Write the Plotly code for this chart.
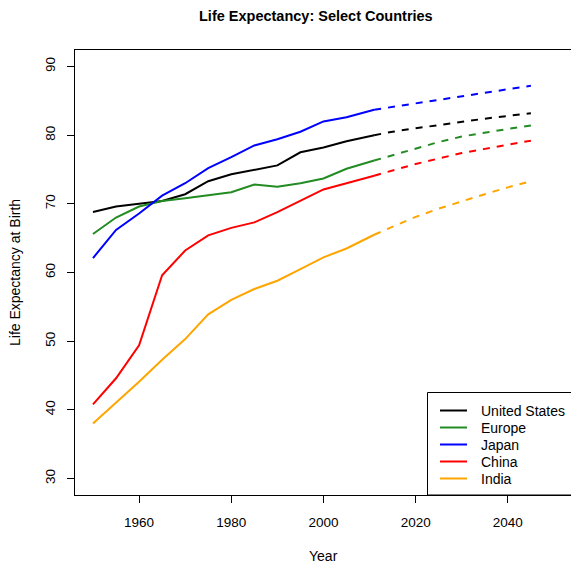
import plotly.graph_objects as go

# Life expectancy at birth: observed 1950-2011, projected 2011-2045
years_hist = [1950, 1955, 1960, 1965, 1970, 1975, 1980, 1985, 1990, 1995, 2000, 2005, 2011]
years_proj = [2011, 2015, 2020, 2025, 2030, 2035, 2040, 2045]

countries = ["United States", "Europe", "Japan", "China", "India"]
colors = ["black", "#228B22", "blue", "red", "#FFA500"]

us_hist = [68.8, 69.6, 70.0, 70.4, 71.4, 73.3, 74.3, 75.0, 75.6, 77.5, 78.2, 79.1, 80.0]
europe_hist = [65.6, 68.0, 69.6, 70.4, 70.8, 71.3, 71.7, 72.8, 72.5, 73.0, 73.7, 75.1, 76.3]
japan_hist = [62.1, 66.2, 68.6, 71.2, 73.0, 75.2, 76.8, 78.5, 79.4, 80.5, 82.0, 82.6, 83.7]
china_hist = [40.8, 44.6, 49.4, 59.6, 63.2, 65.4, 66.5, 67.3, 68.8, 70.5, 72.1, 73.0, 74.1]
india_hist = [38.0, 41.0, 44.1, 47.3, 50.3, 53.9, 56.0, 57.6, 58.8, 60.5, 62.2, 63.5, 65.5]

us_proj = [80.0, 80.5, 81.0, 81.5, 82.0, 82.4, 82.8, 83.2]
europe_proj = [76.3, 77.1, 78.1, 79.0, 79.8, 80.4, 80.9, 81.4]
japan_proj = [83.7, 84.1, 84.6, 85.1, 85.6, 86.1, 86.6, 87.2]
china_proj = [74.1, 74.9, 75.8, 76.6, 77.4, 78.0, 78.6, 79.2]
india_proj = [65.5, 66.7, 68.1, 69.3, 70.4, 71.4, 72.4, 73.3]

x_ticks = [1960, 1980, 2000, 2020, 2040]
y_ticks = [30, 40, 50, 60, 70, 80, 90]

hist = [us_hist, europe_hist, japan_hist, china_hist, india_hist]
proj = [us_proj, europe_proj, japan_proj, china_proj, india_proj]

W, H = 571, 564
ML, MR, MT, MB = 75, 0, 50, 69
PW, PH = W - ML - MR, H - MT - MB
FONT = "Liberation Sans, Arial, Helvetica, sans-serif"


def px(xp):
    return (xp - ML) / PW


def py(yp):
    return (H - MB - yp) / PH


fig = go.Figure()
for name, col, h, p in zip(countries, colors, hist, proj):
    fig.add_trace(go.Scatter(x=years_hist, y=h, mode="lines", name=name,
                             line=dict(color=col, width=2), showlegend=False))
    fig.add_trace(go.Scatter(x=years_proj, y=p, mode="lines", name=name,
                             line=dict(color=col, width=2, dash="7px,7px"),
                             showlegend=False))

shapes = []
annotations = []

# legend box in the bottom-right corner
shapes.append(dict(type="rect", xref="paper", yref="paper",
                   x0=px(427.5), x1=px(580), y0=py(495), y1=py(392.5),
                   line=dict(color="black", width=1), fillcolor="white", layer="above"))
row_y = [410.5, 427.5, 444.5, 461.5, 478.5]
for name, col, ry in zip(countries, colors, row_y):
    shapes.append(dict(type="line", xref="paper", yref="paper",
                       x0=px(440), x1=px(467), y0=py(ry), y1=py(ry),
                       line=dict(color=col, width=2), layer="above"))
    annotations.append(dict(text=name, xref="paper", yref="paper",
                            x=px(479), y=py(ry), xanchor="left", yanchor="middle",
                            showarrow=False, font=dict(size=14, color="black", family=FONT)))

annotations.append(dict(text="<b>Life Expectancy: Select Countries</b>", xref="paper", yref="paper",
                        x=px(316), y=py(16), xanchor="center", yanchor="middle",
                        showarrow=False, font=dict(size=14.5, color="black", family=FONT)))
annotations.append(dict(text="Year", xref="paper", yref="paper",
                        x=px(323), y=py(556), xanchor="center", yanchor="middle",
                        showarrow=False, font=dict(size=14, color="black", family=FONT)))
annotations.append(dict(text="Life Expectancy at Birth", xref="paper", yref="paper",
                        x=px(15), y=py(273), xanchor="center", yanchor="middle",
                        textangle=-90, showarrow=False,
                        font=dict(size=14, color="black", family=FONT)))

fig.update_layout(
    width=W, height=H,
    margin=dict(l=ML, r=MR, t=MT, b=MB, pad=0),
    paper_bgcolor="white", plot_bgcolor="white",
    font=dict(family=FONT, size=13.5, color="black"),
    shapes=shapes, annotations=annotations,
    xaxis=dict(range=[1946.1, 2053.7], tickvals=x_ticks, ticks="outside", ticklen=7,
               tickcolor="black", tickwidth=1, showline=True, linecolor="black",
               linewidth=1, mirror=True, showgrid=False, zeroline=False,
               ticklabelstandoff=8, tickfont=dict(size=13.5)),
    yaxis=dict(range=[27.6, 92.4], tickvals=y_ticks, ticks="outside", ticklen=7,
               tickcolor="black", tickwidth=1, showline=True, linecolor="black",
               linewidth=1, mirror=False, showgrid=False, zeroline=False,
               tickangle=-90, ticklabelstandoff=7, tickfont=dict(size=13.5)),
)

fig.write_html("out.html")
